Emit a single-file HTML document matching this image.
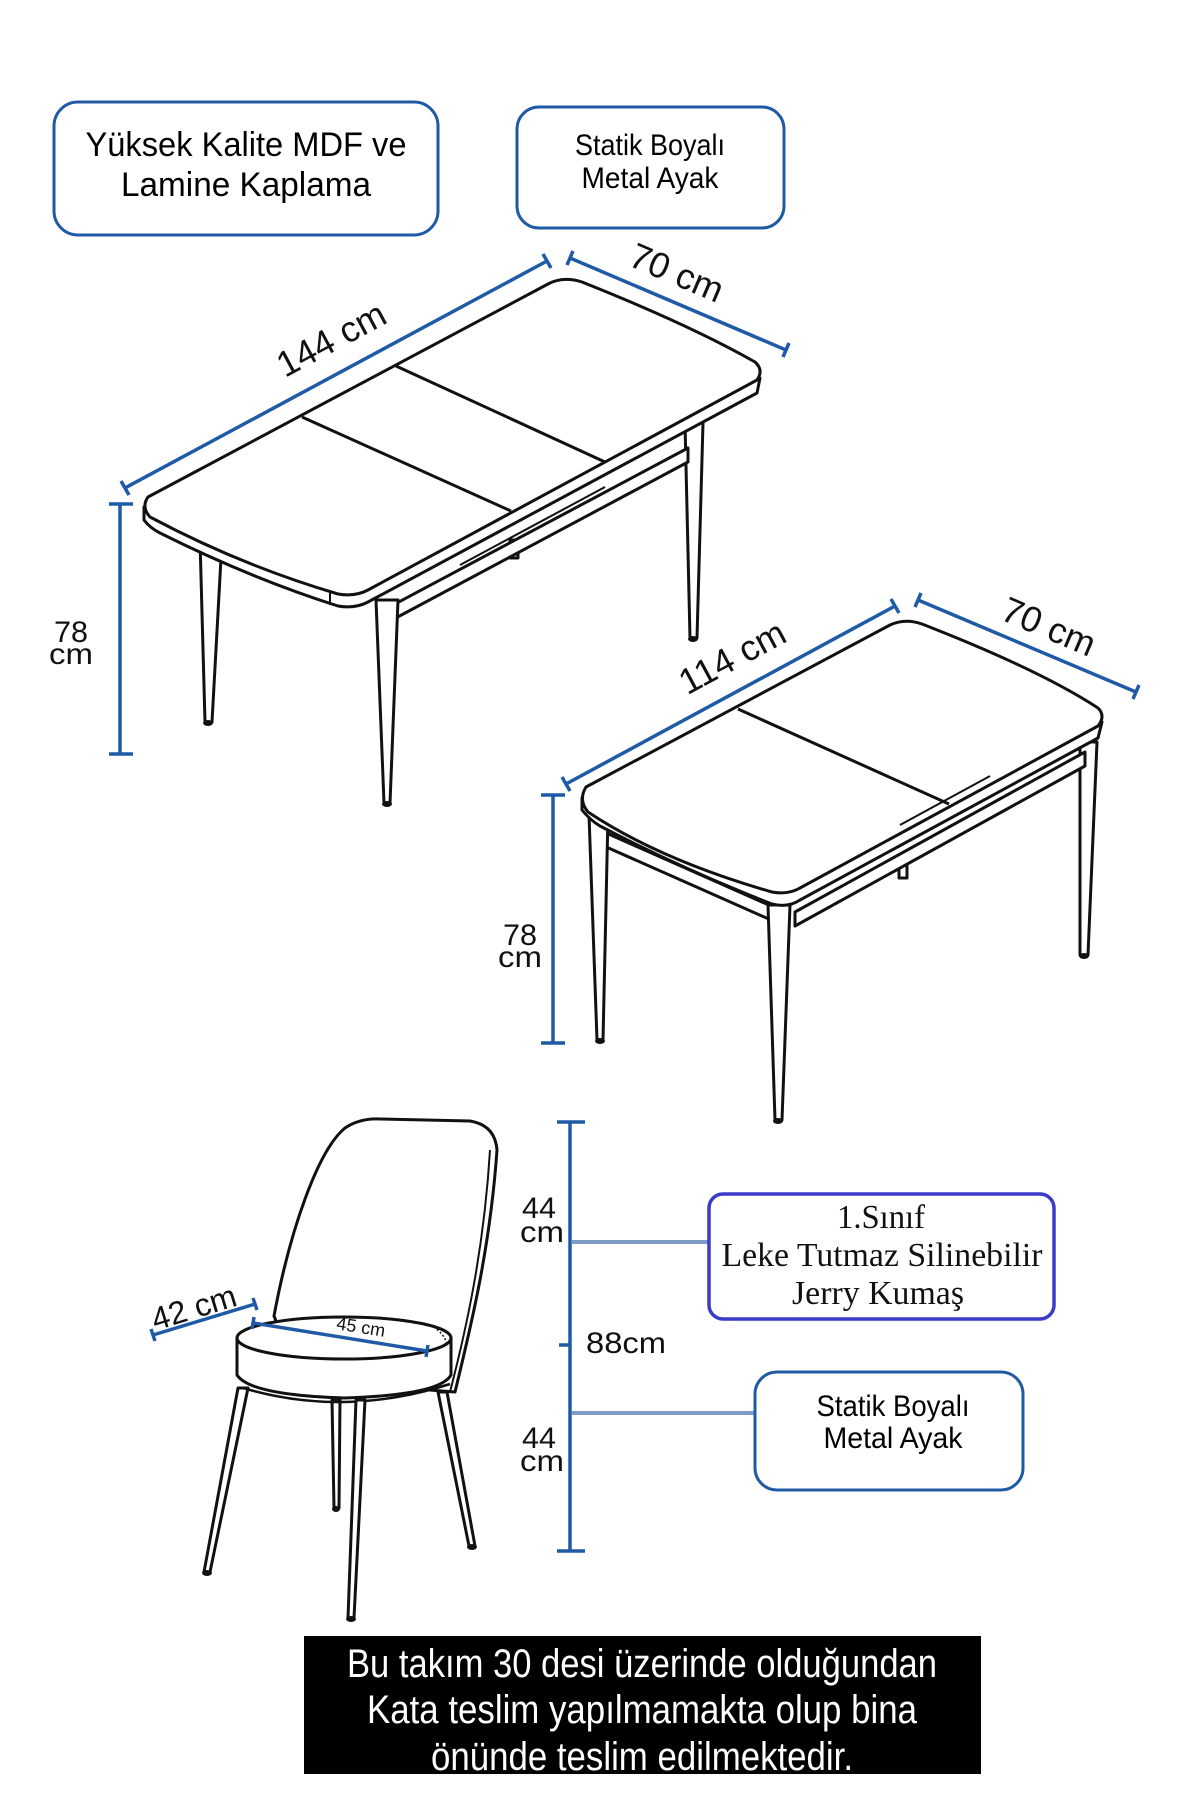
<!DOCTYPE html>
<html><head><meta charset="utf-8"><style>
html,body{margin:0;padding:0;background:#fff;}
svg{display:block;}
</style></head><body>
<svg width="1200" height="1800" viewBox="0 0 1200 1800" xmlns="http://www.w3.org/2000/svg">
<rect width="1200" height="1800" fill="#fff"/>

<rect x="54" y="102" width="384" height="133" rx="24" fill="#fff" stroke="#1f5aa6" stroke-width="3"/>
<text x="246" y="156" font-family="Liberation Sans, sans-serif" font-size="34" text-anchor="middle" textLength="321" lengthAdjust="spacingAndGlyphs">Yüksek Kalite MDF ve</text>
<text x="246" y="196" font-family="Liberation Sans, sans-serif" font-size="34" text-anchor="middle" textLength="250" lengthAdjust="spacingAndGlyphs">Lamine Kaplama</text>

<rect x="517" y="107" width="267" height="121" rx="22" fill="#fff" stroke="#1f5aa6" stroke-width="3"/>
<text x="650" y="155" font-family="Liberation Sans, sans-serif" font-size="30" text-anchor="middle" textLength="150" lengthAdjust="spacingAndGlyphs">Statik Boyalı</text>
<text x="650" y="188" font-family="Liberation Sans, sans-serif" font-size="30" text-anchor="middle" textLength="137" lengthAdjust="spacingAndGlyphs">Metal Ayak</text>

<g stroke="#1f5aa6" stroke-width="3.5" fill="none">
  <line x1="125" y1="488" x2="547" y2="261"/>
  <line x1="121" y1="481" x2="129" y2="495"/><line x1="543" y1="254" x2="551" y2="268"/>
  <line x1="570" y1="258" x2="786" y2="350"/>
  <line x1="573" y1="251" x2="567" y2="265"/><line x1="789" y1="343" x2="783" y2="357"/>
  <line x1="120" y1="504" x2="120" y2="754"/>
  <line x1="109" y1="504" x2="133" y2="504"/><line x1="109" y1="754" x2="133" y2="754"/>

  <line x1="566" y1="784" x2="895" y2="606"/>
  <line x1="562" y1="777" x2="570" y2="791"/><line x1="891" y1="599" x2="899" y2="613"/>
  <line x1="918" y1="600" x2="1136" y2="692"/>
  <line x1="921" y1="593" x2="915" y2="607"/><line x1="1139" y1="685" x2="1133" y2="699"/>
  <line x1="553" y1="795" x2="553" y2="1043"/>
  <line x1="541" y1="795" x2="565" y2="795"/><line x1="541" y1="1043" x2="565" y2="1043"/>

  <line x1="153" y1="1335" x2="255" y2="1304"/>
  <line x1="151" y1="1329" x2="155" y2="1341"/><line x1="253" y1="1298" x2="257" y2="1310"/>

  <line x1="570" y1="1122" x2="570" y2="1551"/>
  <line x1="557" y1="1122" x2="585" y2="1122"/><line x1="557" y1="1551" x2="585" y2="1551"/>
  <line x1="559" y1="1345" x2="570" y2="1345"/>
</g>
<g stroke="#7f9cc7" stroke-width="4">
  <line x1="572" y1="1242" x2="709" y2="1242"/>
  <line x1="572" y1="1413" x2="755" y2="1413"/>
</g>

<g font-family="Liberation Sans, sans-serif" fill="#111">
  <text transform="translate(337,350) rotate(-28.3)" font-size="36" text-anchor="middle">144 cm</text>
  <text transform="translate(672,284) rotate(23)" font-size="36" text-anchor="middle">70 cm</text>
  <text x="71" y="642" font-size="30" text-anchor="middle" textLength="34" lengthAdjust="spacingAndGlyphs">78</text>
  <text x="71" y="664" font-size="30" text-anchor="middle" textLength="44" lengthAdjust="spacingAndGlyphs">cm</text>
  <text transform="translate(738,668) rotate(-28.3)" font-size="36" text-anchor="middle">114 cm</text>
  <text transform="translate(1044,638) rotate(23)" font-size="36" text-anchor="middle">70 cm</text>
  <text x="520" y="945" font-size="30" text-anchor="middle" textLength="34" lengthAdjust="spacingAndGlyphs">78</text>
  <text x="520" y="967" font-size="30" text-anchor="middle" textLength="44" lengthAdjust="spacingAndGlyphs">cm</text>
  <text transform="translate(197,1318) rotate(-17)" font-size="32" text-anchor="middle">42 cm</text>
  <text x="539" y="1218" font-size="30" text-anchor="middle" textLength="34" lengthAdjust="spacingAndGlyphs">44</text>
  <text x="542" y="1242" font-size="30" text-anchor="middle" textLength="44" lengthAdjust="spacingAndGlyphs">cm</text>
  <text x="586" y="1353" font-size="30" textLength="80" lengthAdjust="spacingAndGlyphs">88cm</text>
  <text x="539" y="1448" font-size="30" text-anchor="middle" textLength="34" lengthAdjust="spacingAndGlyphs">44</text>
  <text x="542" y="1471" font-size="30" text-anchor="middle" textLength="44" lengthAdjust="spacingAndGlyphs">cm</text>
</g>

<g stroke="#111" stroke-width="3" fill="#fff" stroke-linejoin="round">
  <polygon points="200,540 222,540 212,722 205,722"/>
  <polygon points="685,423 703,423 697,638 690,638"/>
  <rect x="510" y="540" width="8" height="18"/>
  <path d="M380,612 L688,448 L688,462 L392,620 Z"/>
  <polygon points="376,600 398,600 390,803 384,803"/>
  <path d="M144,507 L144,520 Q150,528 160,533 Q250,578 338,606 Q355,609 368,602 L757,393 L760,378 Z"/>
  <path d="M148,497 L548,284 Q563,276 582,282 Q690,325 755,362 Q764,370 757,380 L368,590 Q355,597 338,594 Q240,565 150,517 Q141,507 148,497 Z"/>
  <line x1="302" y1="417" x2="511" y2="511"/>
  <line x1="396" y1="366" x2="605" y2="462"/>
  <line x1="460" y1="565" x2="605" y2="487" stroke-width="2"/>
  <line x1="330" y1="593" x2="330" y2="605" stroke-width="2"/>
</g>
<g fill="#111"><ellipse cx="208" cy="723" rx="5" ry="3"/><ellipse cx="387" cy="804" rx="5" ry="3"/><ellipse cx="693" cy="639" rx="5" ry="3"/></g>

<g stroke="#111" stroke-width="3" fill="#fff" stroke-linejoin="round">
  <polygon points="1080,742 1097,742 1088,955 1080,955"/>
  <rect x="899" y="862" width="8" height="16"/>
  <path d="M604,832 L780,910 L780,924 L604,846 Z"/>
  <path d="M795,912 L1085,752 L1085,766 L795,926 Z"/>
  <polygon points="589,815 608,815 603,1040 597,1040"/>
  <polygon points="768,905 790,905 782,1120 775,1120"/>
  <path d="M582,798 L582,810 Q590,820 600,826 Q680,868 772,904 Q788,908 800,900 L1098,738 L1102,722 Z"/>
  <path d="M586,787 L890,625 Q905,618 922,624 Q1040,670 1098,708 Q1106,716 1098,726 L800,888 Q788,895 772,892 Q660,860 588,812 Q578,800 586,787 Z"/>
  <line x1="738" y1="709" x2="949" y2="804"/>
  <line x1="900" y1="825" x2="990" y2="776" stroke-width="2"/>
</g>
<g fill="#111"><ellipse cx="600" cy="1041" rx="5" ry="3"/><ellipse cx="778" cy="1121" rx="5" ry="3"/><ellipse cx="1084" cy="956" rx="5" ry="3"/></g>

<g stroke="#111" stroke-width="3" fill="#fff" stroke-linejoin="round">
  <polygon points="332,1400 340,1400 339,1508 334,1508"/>
  <polygon points="238,1388 248,1388 210,1572 204,1572"/>
  <polygon points="438,1392 447,1392 475,1546 469,1546"/>
  <path d="M274,1316 C290,1230 318,1150 345,1128 Q360,1118 380,1119 L470,1121 Q495,1125 497,1150 C490,1250 470,1330 455,1392 L300,1380 Z"/>
  <path d="M490,1150 C484,1250 466,1330 450,1392" fill="none" stroke-width="2"/>
  <path d="M237,1338 L237,1375 Q250,1395 344,1398 Q440,1395 451,1375 L451,1338 Z"/>
  <ellipse cx="344" cy="1338" rx="107" ry="21"/>
  <path d="M243,1388 Q344,1418 450,1384" fill="none" stroke-width="2.5"/>
  <polygon points="356,1400 365,1400 354,1618 348,1618"/>
</g>
<g fill="#111"><ellipse cx="207" cy="1573" rx="5" ry="3"/><ellipse cx="336" cy="1509" rx="4" ry="3"/><ellipse cx="351" cy="1619" rx="5" ry="3"/><ellipse cx="472" cy="1547" rx="5" ry="3"/></g>
<path d="M430,1325 Q445,1333 447,1345" stroke="#111" stroke-width="1.5" stroke-dasharray="2,2" fill="none"/>
<g stroke="#1f5aa6" stroke-width="3.5">
  <line x1="253" y1="1323" x2="427" y2="1351"/>
  <line x1="254" y1="1317" x2="252" y2="1329"/><line x1="428" y1="1345" x2="426" y2="1357"/>
</g>
<text transform="translate(360,1333) rotate(9)" font-family="Liberation Sans, sans-serif" font-size="18" text-anchor="middle" fill="#111">45 cm</text>

<rect x="709" y="1194" width="345" height="125" rx="14" fill="#fff" stroke="#3a3acb" stroke-width="3.5"/>
<g font-family="Liberation Serif, serif" font-size="34" text-anchor="middle" fill="#111">
  <text x="881" y="1228" textLength="88" lengthAdjust="spacingAndGlyphs">1.Sınıf</text>
  <text x="882" y="1266" textLength="321" lengthAdjust="spacingAndGlyphs">Leke Tutmaz Silinebilir</text>
  <text x="878" y="1304" textLength="172" lengthAdjust="spacingAndGlyphs">Jerry Kumaş</text>
</g>

<rect x="755" y="1372" width="268" height="118" rx="22" fill="#fff" stroke="#1f5aa6" stroke-width="3"/>
<text x="893" y="1416" font-family="Liberation Sans, sans-serif" font-size="30" text-anchor="middle" textLength="153" lengthAdjust="spacingAndGlyphs">Statik Boyalı</text>
<text x="893" y="1448" font-family="Liberation Sans, sans-serif" font-size="30" text-anchor="middle" textLength="139" lengthAdjust="spacingAndGlyphs">Metal Ayak</text>

<rect x="304" y="1636" width="677" height="138" fill="#000"/>
<g font-family="Liberation Sans, sans-serif" font-size="40" fill="#fff" text-anchor="middle">
  <text x="642" y="1677" textLength="590" lengthAdjust="spacingAndGlyphs">Bu takım 30 desi üzerinde olduğundan</text>
  <text x="642" y="1723" textLength="550" lengthAdjust="spacingAndGlyphs">Kata teslim yapılmamakta olup bina</text>
  <text x="642" y="1770" textLength="422" lengthAdjust="spacingAndGlyphs">önünde teslim edilmektedir.</text>
</g>
</svg>
</body></html>
